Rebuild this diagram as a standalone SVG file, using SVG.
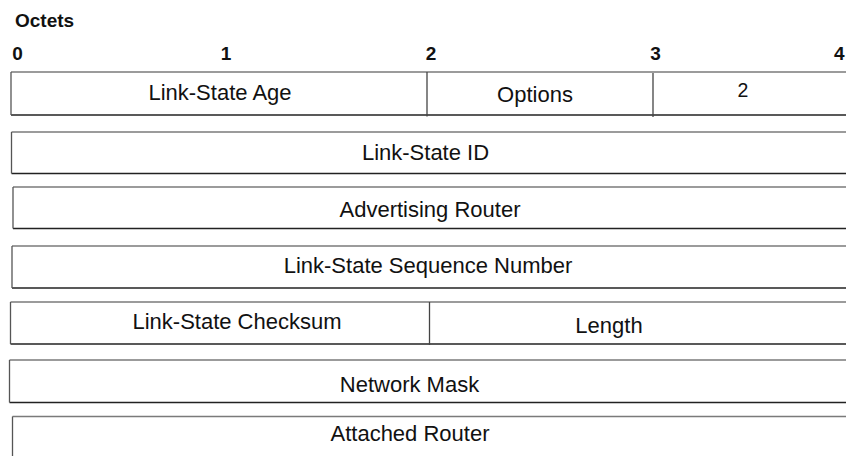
<svg xmlns="http://www.w3.org/2000/svg" width="846" height="456" viewBox="0 0 846 456">
<style>
.t{font-family:"Liberation Sans",Arial,sans-serif;font-size:22px;fill:#111;text-anchor:middle}
.h{font-family:"Liberation Sans",Arial,sans-serif;font-size:19px;font-weight:bold;fill:#111}
.n{font-family:"Liberation Sans",Arial,sans-serif;font-size:19px;font-weight:bold;fill:#111;text-anchor:middle}
.top{stroke:#7a7a7a;stroke-width:1.4;fill:none}
.bot{stroke:#222;stroke-width:1.4;fill:none}
.side{stroke:#555;stroke-width:1.3;fill:none}
.div{stroke:#444;stroke-width:1.3;fill:none}
</style>
<rect width="846" height="456" fill="#fff"/>
<g id="header">
<text class="h" x="15" y="27">Octets</text>
<text class="n" x="17.5" y="60">0</text>
<text class="n" x="226" y="60">1</text>
<text class="n" x="431" y="60">2</text>
<text class="n" x="655.5" y="60">3</text>
<text class="h" x="834" y="60">4</text>
</g>
<g id="row1">
<line class="top" x1="11" y1="72" x2="850" y2="72"/>
<line class="bot" x1="11" y1="115" x2="850" y2="115"/>
<line class="side" x1="11" y1="72" x2="11" y2="115"/>
<line class="div" x1="427" y1="72" x2="427" y2="116.5"/>
<line class="div" x1="653" y1="73" x2="653" y2="117"/>
<text class="t" x="220" y="100">Link-State Age</text>
<text class="t" x="535" y="102">Options</text>
<text class="t" x="743" y="97" style="font-size:19.5px">2</text>
</g>
<g id="row2">
<line class="top" x1="11.5" y1="132" x2="850" y2="132"/>
<line class="bot" x1="11.5" y1="173.5" x2="850" y2="173.5"/>
<line class="side" x1="11.5" y1="132" x2="11.5" y2="173.5"/>
<text class="t" x="425.5" y="160">Link-State ID</text>
</g>
<g id="row3">
<line class="top" x1="13" y1="187" x2="850" y2="187"/>
<line class="bot" x1="13" y1="228.5" x2="850" y2="228.5"/>
<line class="side" x1="13" y1="187" x2="13" y2="228.5"/>
<text class="t" x="430" y="217">Advertising Router</text>
</g>
<g id="row4">
<line class="top" x1="12" y1="246" x2="850" y2="246"/>
<line class="bot" x1="12" y1="288" x2="850" y2="288"/>
<line class="side" x1="12" y1="246" x2="12" y2="288"/>
<text class="t" x="428" y="273">Link-State Sequence Number</text>
</g>
<g id="row5">
<line class="top" x1="10.5" y1="302" x2="850" y2="302"/>
<line class="bot" x1="10.5" y1="344" x2="850" y2="344"/>
<line class="side" x1="10.5" y1="302" x2="10.5" y2="344"/>
<line class="div" x1="429.5" y1="302" x2="429.5" y2="345"/>
<text class="t" x="237" y="328.5">Link-State Checksum</text>
<text class="t" x="609" y="333">Length</text>
</g>
<g id="row6">
<line class="top" x1="9.5" y1="360" x2="850" y2="360"/>
<line class="bot" x1="9.5" y1="402.5" x2="850" y2="402.5"/>
<line class="side" x1="9.5" y1="360" x2="9.5" y2="402.5"/>
<text class="t" x="409.5" y="391.5">Network Mask</text>
</g>
<g id="row7">
<line class="top" x1="12.5" y1="416.5" x2="850" y2="416.5"/>
<line class="side" x1="12.5" y1="416.5" x2="12.5" y2="460"/>
<text class="t" x="410" y="440.5">Attached Router</text>
</g>
<g id="connectors"/>
</svg>
